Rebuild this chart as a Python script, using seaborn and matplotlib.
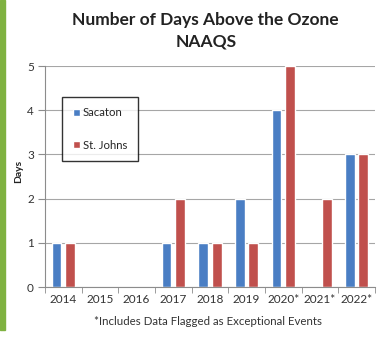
import numpy as np
import pandas as pd
import seaborn as sns
from matplotlib import pyplot as plt
from matplotlib.patches import Rectangle

# data
years = ["2014", "2015", "2016", "2017", "2018", "2019", "2020*", "2021*", "2022*"]
sacaton = [1, 0, 0, 1, 1, 2, 4, 0, 3]
st_johns = [1, 0, 0, 2, 1, 1, 5, 2, 3]

dat = pd.DataFrame({
    "Year": years * 2,
    "Days": sacaton + st_johns,
    "Site": ["Sacaton"] * len(years) + ["St. Johns"] * len(years),
})

sns.set_style("white")
plt.rcParams["font.family"] = ["Lato", "DejaVu Sans"]

fig = plt.figure(figsize=(3.81, 3.37), dpi=100)
ax = fig.add_axes([0.118, 0.148, 0.866, 0.656])

sns.barplot(data=dat, x="Year", y="Days", hue="Site", ax=ax,
            palette=["#4A7EC4", "#C0504D"], width=0.74, gap=0.27,
            saturation=1, errorbar=None)

ax.set_ylim(0, 5)
ax.set_xlim(-0.5, len(years) - 0.5)
ax.set_yticks(range(6))
ax.yaxis.grid(True, color="#a6a6a6", linewidth=0.8)
ax.set_axisbelow(True)
for s in ["top", "right"]:
    ax.spines[s].set_visible(False)
for s in ["left", "bottom"]:
    ax.spines[s].set_color("#8c8c8c")
    ax.spines[s].set_linewidth(0.8)

ax.tick_params(axis="y", length=5, color="#8c8c8c", labelsize=8.5, labelcolor="#333333", pad=3, left=True)
ax.tick_params(axis="x", length=0, labelsize=8.5, labelcolor="#333333", pad=5)
ax.set_xticks(np.arange(len(years) + 1) - 0.5, minor=True)
ax.tick_params(axis="x", which="minor", length=4, color="#8c8c8c", bottom=True)
ax.set_xlabel("")
ax.set_ylabel("")

leg = ax.legend(loc="upper left", bbox_to_anchor=(0.053, 0.86), fontsize=8.2,
                frameon=True, fancybox=False, handlelength=0.6, handleheight=0.6,
                labelspacing=1.9, borderpad=0.9, handletextpad=0.3, borderaxespad=0)
leg.get_frame().set_edgecolor("black")
leg.get_frame().set_linewidth(1.0)

fig.text(0.54, 0.94, "Number of Days Above the Ozone", ha="center", va="center",
         fontsize=12.5, fontweight="bold", color="#222222")
fig.text(0.54, 0.878, "NAAQS", ha="center", va="center",
         fontsize=12.5, fontweight="bold", color="#222222")
fig.text(0.048, 0.49, "Days", rotation=90, ha="center", va="center",
         fontsize=7.5, fontweight="bold", color="#222222")
fig.text(0.545, 0.047, "*Includes Data Flagged as Exceptional Events", ha="center",
         va="center", fontsize=8.3, color="#333333")

# green strip on the left edge
fig.patches.append(Rectangle((0, 0.02), 0.013, 0.98, transform=fig.transFigure,
                             color="#7FB241", zorder=0))

fig.savefig("out.png", dpi=100)
